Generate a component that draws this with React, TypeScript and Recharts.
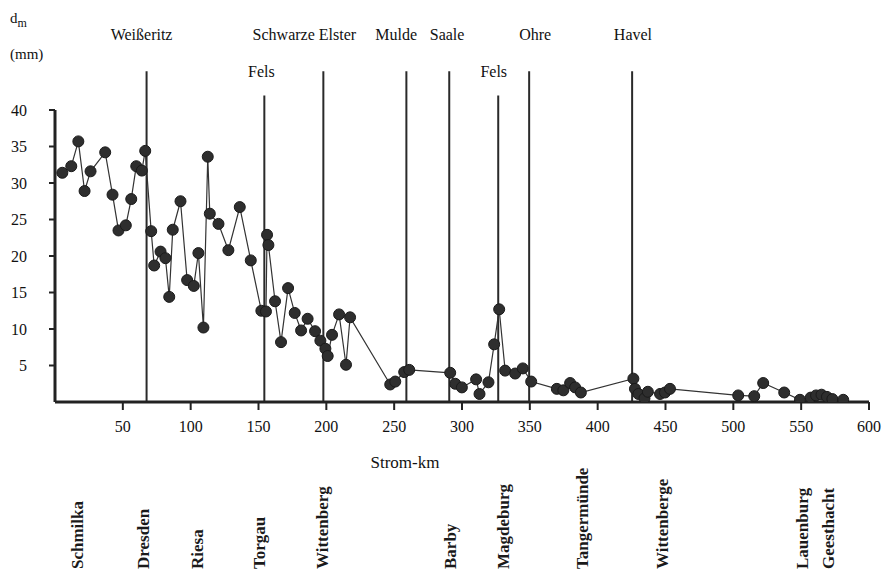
import React from 'react';
import {
  LineChart, Line, XAxis, YAxis, ReferenceLine, ReferenceDot,
} from 'recharts';

// Strom-km of each sample point
const kmValues = [
  5.4, 12.0, 17.2, 21.8, 26.2, 37.0, 42.4, 46.8, 52.2, 56.2, 59.9, 64.0, 66.5,
  70.9, 73.1, 77.8, 81.4, 84.2, 86.8, 92.5, 97.4, 102.3, 105.7, 109.4, 112.6,
  114.1, 120.5, 127.8, 136.2, 144.3, 152.1, 155.5, 156.3, 157.3, 162.2, 166.6,
  171.8, 176.7, 181.4, 186.2, 191.7, 195.6, 199.3, 201.0, 204.2, 209.4, 214.5,
  217.5, 247.1, 250.8, 257.4, 261.1, 291.3, 295.0, 299.9, 310.4, 312.9, 319.5,
  323.7, 327.4, 331.8, 339.2, 344.8, 351.0, 369.9, 374.7, 379.7, 383.4, 387.6,
  426.3, 427.5, 430.0, 434.5, 437.0, 446.0, 449.6, 453.3, 503.6, 515.4, 522.0,
  537.5, 549.1, 557.0, 561.0, 565.0, 569.0, 573.0, 581.0,
];

// d_m (mm) at each point
const dmValues = [
  31.4, 32.3, 35.7, 28.9, 31.6, 34.2, 28.4, 23.5, 24.2, 27.8, 32.3, 31.7, 34.4,
  23.4, 18.7, 20.6, 19.7, 14.4, 23.6, 27.5, 16.7, 15.9, 20.4, 10.2, 33.6,
  25.8, 24.4, 20.8, 26.7, 19.4, 12.5, 12.4, 22.9, 21.5, 13.8, 8.2,
  15.6, 12.2, 9.8, 11.4, 9.7, 8.4, 7.3, 6.3, 9.2, 12.0, 5.1,
  11.6, 2.4, 2.8, 4.1, 4.4, 4.0, 2.5, 2.0, 3.1, 1.1, 2.7,
  7.9, 12.7, 4.3, 3.9, 4.6, 2.8, 1.8, 1.6, 2.6, 2.0, 1.3,
  3.2, 1.8, 1.1, 0.5, 1.4, 1.1, 1.3, 1.8, 0.9, 0.8, 2.6,
  1.3, 0.3, 0.6, 0.9, 1.0, 0.7, 0.4, 0.3,
];

// Tributaries / rock reaches (vertical markers)
const markerNames = ['Weißeritz', 'Fels', 'Schwarze Elster', 'Mulde', 'Saale', 'Fels', 'Ohre', 'Havel'];
const markerKm = [67.5, 154.3, 197.8, 259, 290.6, 326.7, 349.5, 425.4];
const markerLabelKm = [63.8, 152.1, 183.8, 251.5, 289, 323.4, 353.9, 426];
const markerTop = [45.3, 42.0, 45.3, 45.3, 45.3, 42.0, 45.3, 45.3];

// Towns along the river
const townNames = ['Schmilka', 'Dresden', 'Riesa', 'Torgau', 'Wittenberg', 'Barby', 'Magdeburg', 'Tangermünde', 'Wittenberge', 'Lauenburg', 'Geesthacht'];
const townKm = [15.9, 65.2, 105, 150.3, 197, 291.4, 330.3, 388.5, 447.4, 550.5, 569.6];

const xTicks = [50, 100, 150, 200, 250, 300, 350, 400, 450, 500, 550, 600];
const yTicks = [5, 10, 15, 20, 25, 30, 35, 40];

const data = kmValues.map((km, i) => ({ km, dm: dmValues[i] }));

const FONT = '"Liberation Serif", "DejaVu Serif", serif';
const INK = '#222';

const TownTick = (props: any) => {
  const { x, payload } = props;
  const name = townNames[townKm.indexOf(payload.value)];
  const by = 569;
  return (
    <text
      x={x}
      y={by}
      transform={`rotate(-90, ${x}, ${by})`}
      textAnchor="start"
      dy="0.35em"
      fontFamily={FONT}
      fontSize={17}
      fontWeight="bold"
      fill="#1a1a1a"
    >
      {name}
    </text>
  );
};

export default function App() {
  return (
    <div style={{ position: 'absolute', left: 0, top: 0, width: 884, height: 574, background: '#fff' }}>
      <div style={{ position: 'absolute', left: 10, top: 10, fontFamily: FONT, fontSize: 15, color: '#111' }}>
        d<sub style={{ fontSize: 12 }}>m</sub>
      </div>
      <div style={{ position: 'absolute', left: 10, top: 46, fontFamily: FONT, fontSize: 15, color: '#111' }}>
        (mm)
      </div>
      <LineChart
        width={884}
        height={574}
        data={data}
        margin={{ top: 110, right: 15, left: 0, bottom: 2 }}
      >
        <XAxis
          type="number"
          dataKey="km"
          domain={[0, 600]}
          ticks={xTicks}
          allowDataOverflow
          height={80}
          tickSize={8}
          tickMargin={11}
          axisLine={{ stroke: INK, strokeWidth: 3 }}
          tickLine={{ stroke: INK, strokeWidth: 2 }}
          tick={{ fontFamily: FONT, fontSize: 16, fill: '#111' }}
          label={{
            content: (p: any) => {
              const vb = p.viewBox;
              return (
                <text
                  x={vb.x + vb.width * 0.43}
                  y={vb.y + 66}
                  textAnchor="middle"
                  fontFamily={FONT}
                  fontSize={17}
                  fill="#111"
                >
                  Strom-km
                </text>
              );
            },
          }}
        />
        <XAxis
          xAxisId="town"
          type="number"
          dataKey="km"
          domain={[0, 600]}
          ticks={townKm}
          allowDataOverflow
          height={90}
          axisLine={false}
          tickLine={false}
          tick={<TownTick />}
          interval={0}
        />
        <YAxis
          type="number"
          domain={[0, 40]}
          ticks={yTicks}
          allowDataOverflow
          width={55}
          tickSize={6}
          tickMargin={22}
          axisLine={{ stroke: INK, strokeWidth: 3 }}
          tickLine={{ stroke: INK, strokeWidth: 2 }}
          tick={{ fontFamily: FONT, fontSize: 16, fill: '#111' }}
        />
        {markerKm.map((km, i) => (
          <ReferenceLine
            key={`l${i}`}
            segment={[{ x: km, y: 0 }, { x: km, y: markerTop[i] }]}
            ifOverflow="visible"
            stroke="#2a2a2a"
            strokeWidth={2}
          />
        ))}
        {markerKm.map((km, i) => (
          <ReferenceDot
            key={`t${i}`}
            x={markerLabelKm[i]}
            y={markerTop[i]}
            r={0}
            ifOverflow="visible"
            stroke="none"
            fill="none"
            label={{
              content: (p: any) => {
                const vb = p.viewBox;
                const rise = markerNames[i] === 'Fels' ? 24 : 37;
                return (
                  <text
                    x={vb.x + (vb.width || 0) / 2}
                    y={vb.y - rise}
                    textAnchor="middle"
                    dominantBaseline="central"
                    fontFamily={FONT}
                    fontSize={16}
                    fill="#111"
                  >
                    {markerNames[i]}
                  </text>
                );
              },
            }}
          />
        ))}
        <Line
          type="linear"
          dataKey="dm"
          stroke="#333"
          strokeWidth={1.2}
          dot={{ r: 5.5, fill: '#2e2e2e', stroke: '#1a1a1a', strokeWidth: 1 }}
          activeDot={false}
          isAnimationActive={false}
        />
      </LineChart>
    </div>
  );
}
